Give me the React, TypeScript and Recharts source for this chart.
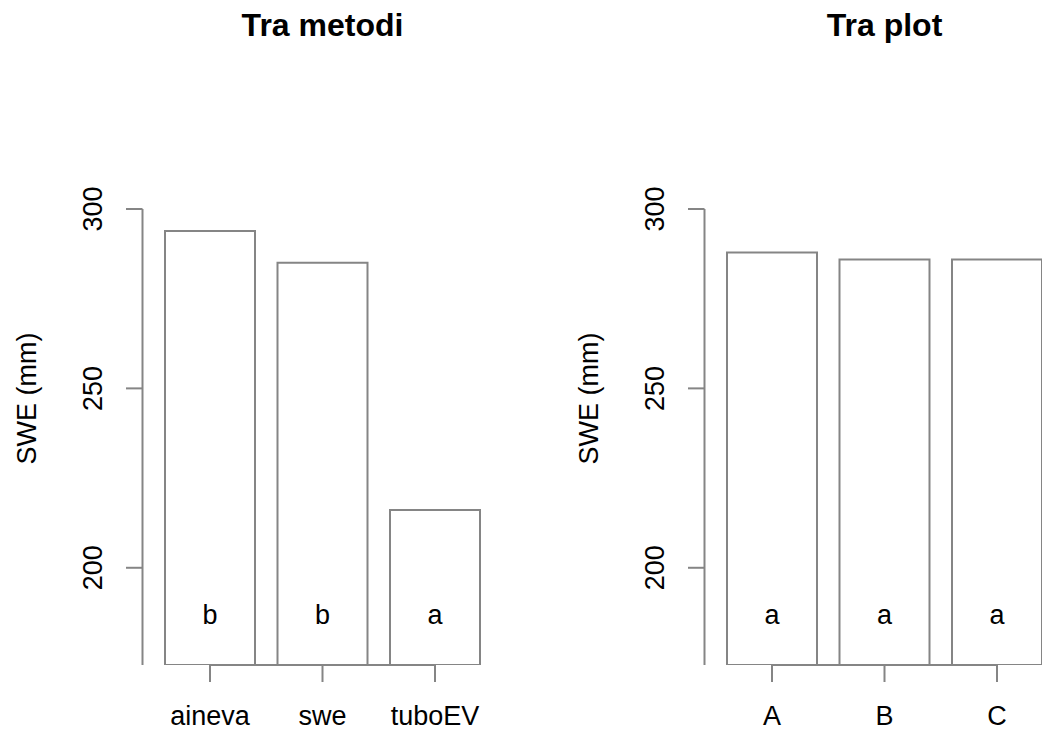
import { Bar, BarChart, LabelList, ReferenceLine, XAxis, YAxis } from "recharts"

const methods = ["aineva", "swe", "tuboEV"]
const methodValues = [293.9, 285.0, 216.1]
const methodLetters = ["b", "b", "a"]

const plots = ["A", "B", "C"]
const plotValues = [287.9, 285.9, 285.9]
const plotLetters = ["a", "a", "a"]

const yTicks = [200, 250, 300]
const yMin = 172.9
const yMax = 300

const FONT = "'Liberation Sans', Arial, Helvetica, sans-serif"
const GREY = "#858585"

const YTick = (props: any) => (
  <text
    transform={`translate(${props.x},${props.y}) rotate(-90)`}
    textAnchor="middle"
    fontSize={27}
    fontFamily={FONT}
    fill="#000"
  >
    {props.payload.value}
  </text>
)

const XTick = (props: any) => (
  <text x={props.x} y={props.y} textAnchor="middle" fontSize={27} fontFamily={FONT} fill="#000">
    {props.payload.value}
  </text>
)

const Letter = (props: any) => {
  const vb = props.viewBox ?? props
  const x = vb.x ?? props.x
  const y = vb.y ?? props.y
  const w = vb.width ?? props.width
  const h = vb.height ?? props.height
  return (
    <text x={x + w / 2} y={y + h - 41.5} textAnchor="middle" fontSize={27} fontFamily={FONT} fill="#000">
      {props.value}
    </text>
  )
}

function Panel({
  title,
  names,
  values,
  letters,
  left,
}: {
  title: string
  names: string[]
  values: number[]
  letters: string[]
  left: number
}) {
  const data = names.map((name, i) => ({ name, value: values[i], letter: letters[i] }))
  return (
    <div style={{ position: "absolute", left, top: 0, width: 540, height: 734 }}>
      <BarChart
        width={540}
        height={734}
        data={data}
        margin={{ top: 209, right: 37.5, bottom: 0, left: 42.5 }}
        barCategoryGap="10%"
      >
        <XAxis
          dataKey="name"
          height={69}
          padding={{ left: 11.25, right: 11.25 }}
          axisLine={false}
          tickLine={{ stroke: GREY, strokeWidth: 2 }}
          tickSize={17}
          tickMargin={43}
          tick={<XTick />}
          interval={0}
        />
        <YAxis
          type="number"
          domain={[yMin, yMax]}
          allowDataOverflow
          ticks={yTicks}
          width={100}
          axisLine={{ stroke: GREY, strokeWidth: 2 }}
          tickLine={{ stroke: GREY, strokeWidth: 2 }}
          tickSize={16.5}
          tickMargin={24}
          tick={<YTick />}
        />
        <Bar dataKey="value" fill="#fff" stroke={GREY} strokeWidth={2} isAnimationActive={false}>
          <LabelList dataKey="letter" content={<Letter />} />
        </Bar>
        <ReferenceLine
          segment={[
            { x: names[0], y: yMin },
            { x: names[names.length - 1], y: yMin },
          ]}
          stroke={GREY}
          strokeWidth={2}
          ifOverflow="visible"
        />
      </BarChart>
      <svg
        width={540}
        height={734}
        style={{ position: "absolute", left: 0, top: 0, pointerEvents: "none" }}
      >
        <text x={322.5} y={36} textAnchor="middle" fontSize={32} fontWeight="bold" fontFamily={FONT} fill="#000">
          {title}
        </text>
        <text
          transform="translate(36,398.5) rotate(-90)"
          textAnchor="middle"
          fontSize={27}
          fontFamily={FONT}
          fill="#000"
        >
          SWE (mm)
        </text>
      </svg>
    </div>
  )
}

export default function App() {
  return (
    <div
      style={{
        position: "absolute",
        left: 0,
        top: 0,
        width: 1042,
        height: 734,
        overflow: "hidden",
        background: "#fff",
      }}
    >
      <Panel title="Tra metodi" names={methods} values={methodValues} letters={methodLetters} left={0} />
      <Panel title="Tra plot" names={plots} values={plotValues} letters={plotLetters} left={561.8} />
    </div>
  )
}
